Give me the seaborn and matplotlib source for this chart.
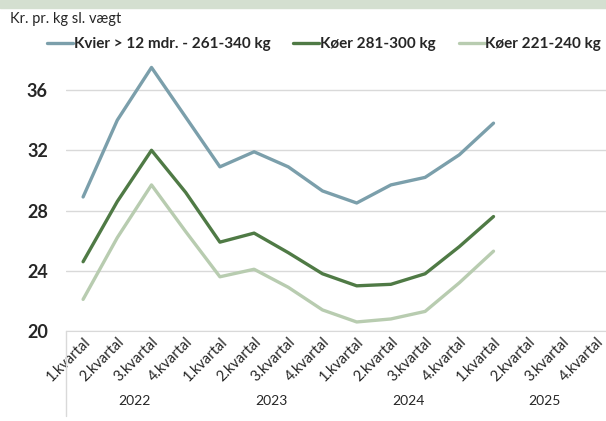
import matplotlib
matplotlib.use("Agg")
import matplotlib.pyplot as plt
import matplotlib.patches as mpatches
import matplotlib.lines as mlines
import seaborn as sns
import pandas as pd

# data (kr. pr. kg slagtevaegt, per kvartal)
quarters = ["1.kvartal", "2.kvartal", "3.kvartal", "4.kvartal"] * 4
years = ["2022", "2023", "2024", "2025"]
kvier = [28.9, 34.0, 37.5, 34.2, 30.9, 31.9, 30.9, 29.3, 28.5, 29.7, 30.2, 31.7, 33.8]
koer_281_300 = [24.6, 28.6, 32.0, 29.2, 25.9, 26.5, 25.2, 23.8, 23.0, 23.1, 23.8, 25.6, 27.6]
koer_221_240 = [22.1, 26.2, 29.7, 26.6, 23.6, 24.1, 22.9, 21.4, 20.6, 20.8, 21.3, 23.2, 25.3]
series_names = ["Kvier > 12 mdr. - 261-340 kg", "Køer 281-300 kg", "Køer 221-240 kg"]
colors = ["#7b9fab", "#4f7a45", "#b8ccb0"]

rows = []
for name, vals in zip(series_names, [kvier, koer_281_300, koer_221_240]):
    for i, v in enumerate(vals):
        rows.append({"pos": i, "pris": v, "serie": name})
df = pd.DataFrame(rows)

sns.set_style("white")
plt.rcParams["font.family"] = ["Lato", "DejaVu Sans"]

W, H = 606, 421
fig = plt.figure(figsize=(W / 100, H / 100), dpi=100)

# pale band on top
fig.patches.append(mpatches.Rectangle((0, 1 - 8 / H), 1, 8 / H, transform=fig.transFigure,
                                      color="#d4dfd0", zorder=0))

left, bottom, top = 66, 331, 55
cat_w = 34.2
ax = fig.add_axes([left / W, 1 - bottom / H, 16 * cat_w / W, (bottom - top) / H])

sns.lineplot(data=df, x="pos", y="pris", hue="serie", palette=colors, linewidth=2.4,
             ax=ax, legend=False)

ax.set_xlim(-0.5, 15.5)
ax.set_ylim(20, 20 + (bottom - top) / 15.06)
ax.set_yticks([20, 24, 28, 32, 36])
ax.set_yticklabels(["20", "24", "28", "32", "36"], fontsize=13, fontweight="bold")
ax.yaxis.grid(True, color="#d9d9d9", linewidth=1)
ax.set_axisbelow(True)
for s in ["left", "right", "top"]:
    ax.spines[s].set_visible(False)
ax.spines["bottom"].set_color("#d9d9d9")
ax.tick_params(axis="y", length=0, pad=13)
ax.tick_params(axis="x", length=0, pad=3)
ax.set_xticks(range(16))
ax.set_xticklabels(quarters, rotation=45, ha="right", va="top", rotation_mode="anchor",
                   fontsize=10.5)
ax.set_xlabel("")
ax.set_ylabel("")

# year labels
for k, y in enumerate(years):
    ax.text(k * 4 + 1.5, -0.255, y, transform=ax.get_xaxis_transform(), ha="center",
            va="center", fontsize=10)

# left border of category area
fig.add_artist(mlines.Line2D([left / W, left / W], [1 - bottom / H, 1 - 416 / H],
                             color="#d9d9d9", linewidth=1))

fig.text(10 / W, 1 - 19 / H, "Kr. pr. kg sl. vægt", fontsize=10.5, va="center", ha="left")

handles = [mlines.Line2D([], [], color=c, linewidth=2.4) for c in colors]
fig.legend(handles, series_names, loc="center", bbox_to_anchor=(0.535, 1 - 44 / H), ncol=3,
           frameon=False, handlelength=1.7, handletextpad=0.05, columnspacing=1.5,
           borderpad=0, borderaxespad=0, prop={"weight": "bold", "size": 11})

fig.savefig("out.png", dpi=100)
